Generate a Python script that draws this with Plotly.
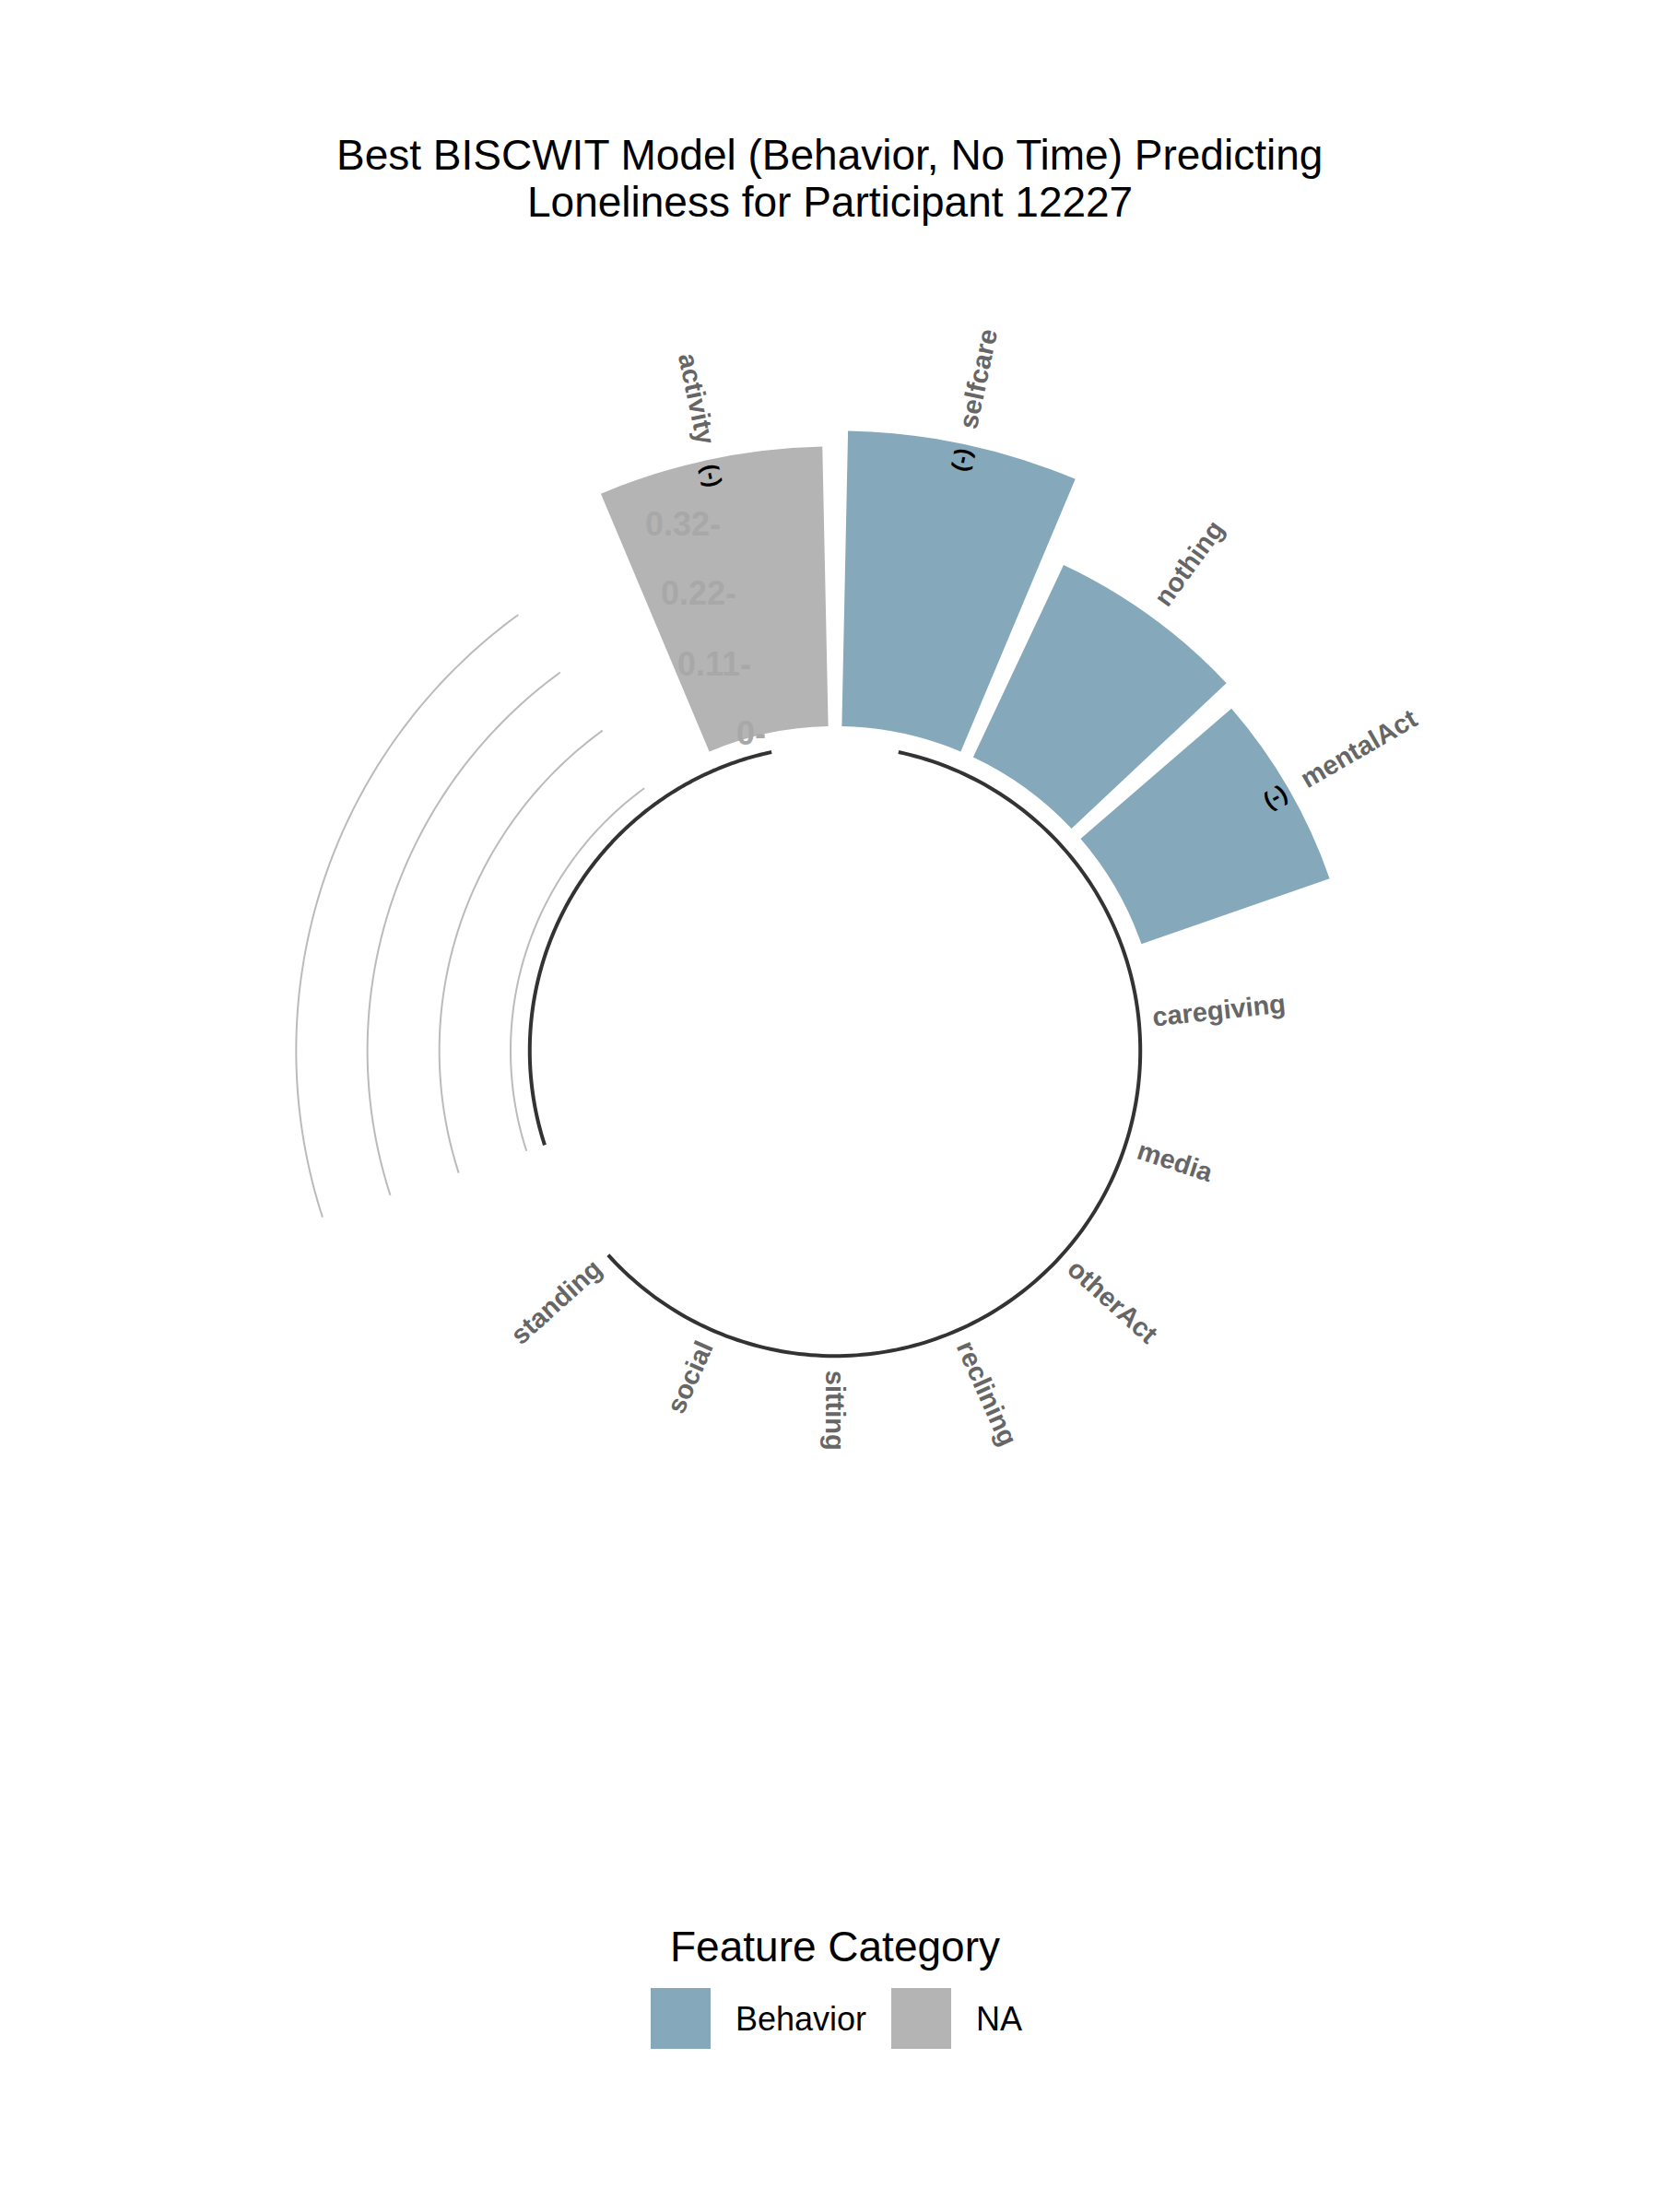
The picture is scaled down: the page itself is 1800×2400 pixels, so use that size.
import numpy as np
import plotly.graph_objects as go

# ---------------- data ----------------
categories = ["activity", "selfcare", "nothing", "mentalAct", "caregiving", "media",
              "otherAct", "reclining", "sitting", "social", "standing"]
slot_ids = [15, 1, 2, 3, 4, 5, 6, 7, 8, 9, 10]
values = [0.424, 0.448, 0.322, 0.302, 0, 0, 0, 0, 0, 0, 0]
feature_category = ["NA", "Behavior", "Behavior", "Behavior", "Behavior", "Behavior",
                    "Behavior", "Behavior", "Behavior", "Behavior", "Behavior"]
signs = ["(-)", "(-)", "", "(-)", "", "", "", "", "", "", ""]
n_slots = 15

grid_values = [0, 0.108, 0.217, 0.325]
grid_labels = ["0", "0.11", "0.22", "0.32"]
grid_slot_span = (11, 14)
baseline_spans = [(1, 10), (11, 15)]
baseline_value = -0.029

legend_categories = ["Behavior", "NA"]
palette = {"Behavior": "#85A9BB", "NA": "#B4B4B4"}

title_lines = ["Best BISCWIT Model (Behavior, No Time) Predicting",
               "Loneliness for Participant 12227"]
legend_title = "Feature Category"

# ---------------- geometry / layout constants ----------------
W, H = 1800, 2400
CX, CY = 906, 1140          # polar centre in px
PX_PER_UNIT = 716.0
R_LO = -0.4916
R_HI = 0.60
RV = R_HI - R_LO
RPX = RV * PX_PER_UNIT
dom_x = [(CX - RPX) / W, (CX + RPX) / W]
dom_y = [1 - (CY + RPX) / H, 1 - (CY - RPX) / H]

FONT = "Liberation Sans, Arial, sans-serif"
BAR_WIDTH_FRAC = 0.9

def slot_theta(i):
    return 360.0 * (i - 0.5) / n_slots

# Arial Bold widths (per em)
AW = {'a': .556, 'b': .611, 'c': .556, 'd': .611, 'e': .556, 'f': .333, 'g': .611, 'h': .611,
      'i': .278, 'j': .278, 'k': .556, 'l': .278, 'm': .889, 'n': .611, 'o': .611, 'p': .611,
      'q': .611, 'r': .389, 's': .556, 't': .333, 'u': .611, 'v': .556, 'w': .778, 'x': .556,
      'y': .556, 'z': .5, 'A': .722, 'C': .722, ' ': .278, '(': .333, ')': .333, '-': .333}

def text_w(s, size):
    return sum(AW.get(c, .6) for c in s) * size

fig = go.Figure()

# grid arcs
for g in grid_values:
    th = np.linspace(slot_theta(grid_slot_span[0]), slot_theta(grid_slot_span[1]), 80)
    fig.add_trace(go.Scatterpolar(theta=th, r=np.full_like(th, g), mode="lines",
                                  line=dict(color="#BBBBBB", width=2),
                                  showlegend=False, hoverinfo="skip"))

# bars
for cat in legend_categories:
    idx = [i for i, c in enumerate(feature_category) if c == cat]
    fig.add_trace(go.Barpolar(
        theta=[slot_theta(slot_ids[i]) for i in idx],
        r=[values[i] for i in idx],
        base=0,
        width=[360.0 / n_slots * BAR_WIDTH_FRAC] * len(idx),
        marker=dict(color=palette[cat], line=dict(width=0)),
        name=cat, showlegend=False, hoverinfo="skip"))

# baseline arcs
for a, b in baseline_spans:
    th = np.linspace(slot_theta(a), slot_theta(b), 200)
    fig.add_trace(go.Scatterpolar(theta=th, r=np.full_like(th, baseline_value), mode="lines",
                                  line=dict(color="#333333", width=4),
                                  showlegend=False, hoverinfo="skip"))

annotations = []

def to_xy(dist, theta):
    t = np.radians(theta)
    return dist * np.sin(t), dist * np.cos(t)

def rot_angle(theta):
    return theta - 90 if theta <= 180 else theta - 270

LABEL_SIZE = 29
for cat, sid, v, sg in zip(categories, slot_ids, values, signs):
    th = slot_theta(sid)
    r0 = v + 0.025 if v > 0 else -0.008
    L = text_w(cat, LABEL_SIZE)
    dist = (r0 - R_LO) + (L / 2) / PX_PER_UNIT
    x, y = to_xy(dist, th)
    annotations.append(dict(x=x, y=y, xref="x", yref="y", text="<b>%s</b>" % cat,
                            showarrow=False, xanchor="center", yanchor="middle",
                            textangle=rot_angle(th),
                            font=dict(family=FONT, size=LABEL_SIZE, color="#666666")))
    if sg:
        x, y = to_xy(v - 0.024 - R_LO, th)
        annotations.append(dict(x=x, y=y, xref="x", yref="y", text="<b>%s</b>" % sg,
                                showarrow=False, xanchor="center", yanchor="middle",
                                textangle=rot_angle(th),
                                font=dict(family=FONT, size=25, color="#000000")))

# scale labels
for g, lab in zip(grid_values, grid_labels):
    x, y = to_xy(g - R_LO, slot_theta(15))
    annotations.append(dict(x=x, y=y, xref="x", yref="y", text="<b>%s-</b>" % lab,
                            showarrow=False, xanchor="right", yanchor="middle",
                            font=dict(family=FONT, size=36, color="#A8A8A8")))

# title
for k, line in enumerate(title_lines):
    annotations.append(dict(x=0.5, y=1 - (168 + 51 * k) / H, xref="paper", yref="paper",
                            text=line, showarrow=False, xanchor="center", yanchor="middle",
                            font=dict(family=FONT, size=46, color="#000000")))

# legend (manual, large keys)
shapes = []
annotations.append(dict(x=CX / W, y=1 - 2112 / H, xref="paper", yref="paper",
                        text=legend_title, showarrow=False, xanchor="center", yanchor="middle",
                        font=dict(family=FONT, size=46, color="#000000")))
key_x0 = [706, 967]
for cat, kx in zip(legend_categories, key_x0):
    shapes.append(dict(type="rect", xref="paper", yref="paper",
                       x0=kx / W, x1=(kx + 65) / W, y0=1 - 2223 / H, y1=1 - 2157 / H,
                       fillcolor=palette[cat], line=dict(width=0)))
    annotations.append(dict(x=(kx + 90) / W, y=1 - 2190 / H, xref="paper", yref="paper",
                            text=cat, showarrow=False, xanchor="left", yanchor="middle",
                            font=dict(family=FONT, size=36, color="#000000")))

fig.update_layout(
    width=W, height=H,
    margin=dict(l=0, r=0, t=0, b=0),
    paper_bgcolor="white", plot_bgcolor="white",
    showlegend=False,
    polar=dict(
        domain=dict(x=dom_x, y=dom_y),
        bgcolor="rgba(0,0,0,0)",
        hole=0,
        radialaxis=dict(range=[R_LO, R_HI], visible=False, showgrid=False),
        angularaxis=dict(rotation=90, direction="clockwise", visible=False,
                         showgrid=False, thetaunit="degrees"),
        barmode="overlay",
    ),
    xaxis=dict(domain=dom_x, range=[-RV, RV], visible=False, fixedrange=True),
    yaxis=dict(domain=dom_y, range=[-RV, RV], visible=False, fixedrange=True),
    annotations=annotations,
    shapes=shapes,
    hovermode=False,
)

fig.write_html("out.html")
